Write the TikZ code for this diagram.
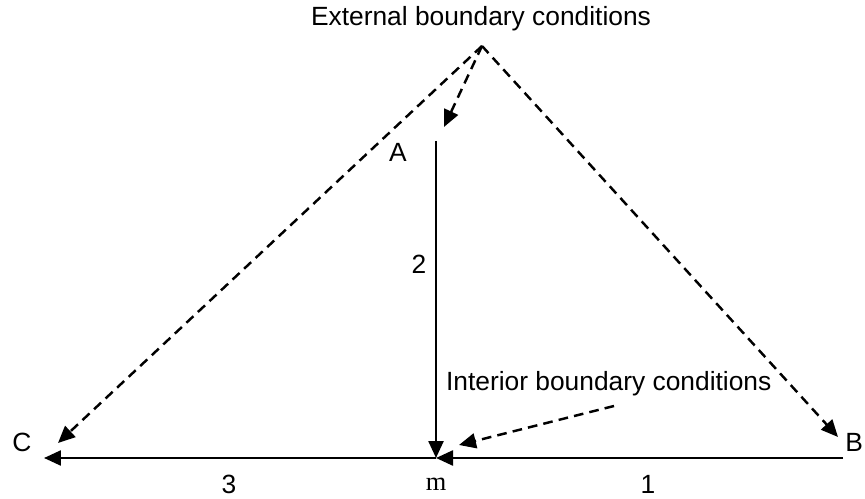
\documentclass[tikz,border=0pt]{standalone}
\usepackage{fontspec}
\setmainfont{Liberation Sans}
\newfontfamily\serifm{Liberation Serif}
\usetikzlibrary{arrows.meta,positioning}

\begin{document}
\begin{tikzpicture}[
  x=0.02cm,y=-0.02cm,
  lab/.style={font=\fontsize{15}{17}\selectfont, inner sep=1pt},
  arr/.style={-{Triangle[length=3.4mm,width=3mm]}, line width=1.4pt},
  darr/.style={arr, dash pattern=on 5.5pt off 3.5pt}
]
\useasboundingbox (0,0) rectangle (865,499);
% corner points
\coordinate (top) at (482,46);
\coordinate (a) at (436,141);
\coordinate (m) at (436,458);
\coordinate (b) at (843,458);
\coordinate (c) at (44,458);
\coordinate (ctip) at (58,443);
\coordinate (btip) at (838,437);
\coordinate (atip) at (444,127);
\coordinate (ibc) at (614,406);
\coordinate (mtip) at (459,445);
% labels
\node[lab] (ext) at (481,19) {External boundary conditions};
\node[lab] (la) at (398,152) {A};
\node[lab] (l2) at (419,264) {2};
\node[lab, anchor=west] (int) at (444,384) {Interior boundary conditions};
\node[lab] (lc) at (22,442) {C};
\node[lab, anchor=east] (lb) at (865,442) {B};
\node[lab] (l3) at (229,484) {3};
\node[lab, font=\serifm\fontsize{15}{17}\selectfont] (lm) at (436,484) {m};
\node[lab] (l1) at (648,484) {1};
% solid arrows
\draw[arr] (a) -- (m);
\draw[arr] (b) -- (m);
\draw[arr] (m) -- (c);
% dashed arrows
\draw[darr] (top) -- (ctip);
\draw[darr] (top) -- (atip);
\draw[darr] (top) -- (btip);
\draw[darr] (ibc) -- (mtip);
\end{tikzpicture}
\end{document}
